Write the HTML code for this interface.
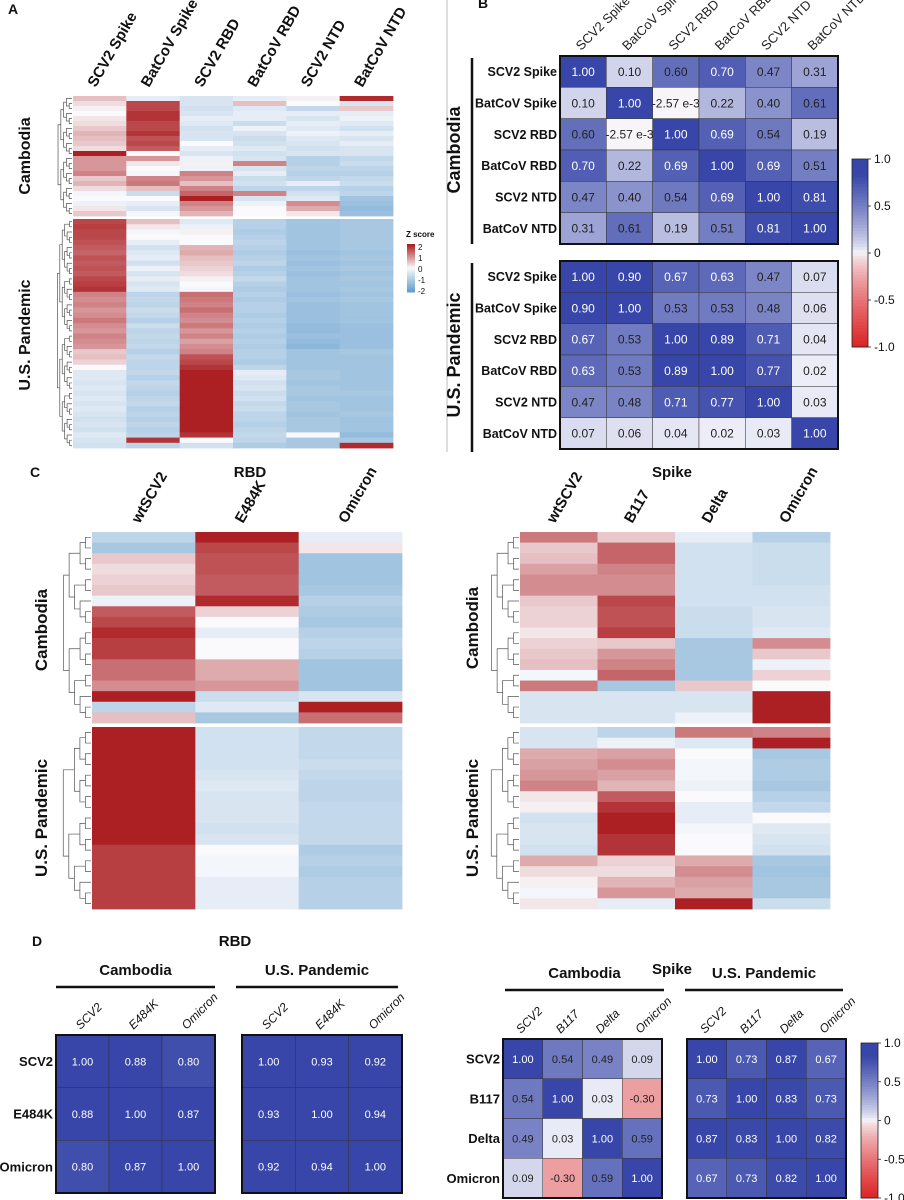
<!DOCTYPE html>
<html><head><meta charset="utf-8">
<style>
html,body{margin:0;padding:0;background:#fff;}
svg{display:block;font-family:"Liberation Sans",Arial,sans-serif;}
</style></head>
<body>
<svg id="fig" width="904" height="1200" viewBox="0 0 904 1200" xmlns="http://www.w3.org/2000/svg">
<rect width="904" height="1200" fill="#fff"/>
<g id="root"></g>
</svg>
<script>
// ---------- Panel A data (Z scores) ----------
const aCols = ["SCV2 Spike","BatCoV Spike","SCV2 RBD","BatCoV RBD","SCV2 NTD","BatCoV NTD"];
const aCambodia = [
[0.6,-0.3,-0.5,-0.3,0.1,2.1],[0.3,1.8,-0.5,0.6,0.0,-0.5],[0.1,1.8,-0.6,-0.4,-0.8,0.5],
[0.0,2.0,-0.5,-0.3,-0.3,-0.3],[0.2,2.0,-0.3,-0.3,-0.5,-0.2],[0.3,1.8,-0.4,-0.7,-0.3,-0.4],
[0.5,1.8,-0.6,-0.2,-0.4,-0.6],[0.7,2.0,-0.5,-0.5,-0.2,-0.3],[0.6,1.7,-0.5,-0.7,-0.4,-0.5],
[0.5,1.8,0.0,-0.6,-0.5,-0.3],[0.3,1.6,-0.3,-0.4,-0.6,-0.5],[2.2,0.0,-0.5,-0.6,-0.5,-0.5],
[1.0,1.0,-0.2,-0.5,-1.0,-0.8],[1.0,0.2,0.1,1.2,-1.0,-0.7],[1.0,0.0,-0.2,-0.5,-0.9,-0.9],
[1.2,-0.1,1.2,-0.3,-1.0,-1.0],[0.5,1.2,1.0,-0.7,-0.9,-0.8],[0.7,1.3,0.6,-0.6,-0.3,-0.7],
[0.3,0.6,1.2,-0.9,-0.9,-1.0],[-0.1,-0.7,1.5,1.2,-0.6,-0.9],[0.0,0.0,2.3,-0.5,-0.4,-1.3],
[-0.2,-0.3,1.2,-0.2,1.1,-1.4],[0.2,-0.5,1.0,0.0,0.8,-1.5],[0.5,-0.1,0.7,0.0,0.2,-1.4]];
const aUS = [
[1.8,0.6,-0.4,-1.0,-1.3,-1.2],[1.9,0.2,-0.2,-1.0,-1.3,-1.2],[1.8,-0.1,0.1,-1.1,-1.3,-1.2],
[1.8,0.0,0.0,-1.0,-1.3,-1.2],[1.7,-0.3,0.0,-0.9,-1.3,-1.2],[1.6,-0.6,0.7,-1.0,-1.3,-1.2],
[1.5,-0.4,0.8,-1.1,-1.4,-1.3],[1.7,-0.3,0.6,-1.0,-1.3,-1.2],[1.6,-0.6,0.5,-0.9,-1.4,-1.3],
[1.7,-0.2,0.4,-1.1,-1.3,-1.2],[1.6,-0.5,0.3,-1.0,-1.4,-1.3],[1.8,-0.3,0.1,-0.8,-1.3,-1.2],
[1.9,-0.5,0.0,-1.0,-1.3,-1.3],[2.0,-0.4,-0.1,-1.1,-1.3,-1.2],[1.2,-0.9,1.4,-1.0,-1.4,-1.3],
[1.1,-0.8,1.3,-1.1,-1.3,-1.2],[1.2,-0.9,1.2,-1.0,-1.4,-1.3],[1.0,-0.7,1.4,-1.0,-1.4,-1.3],
[1.1,-0.8,1.2,-1.1,-1.4,-1.3],[1.3,-1.0,1.1,-1.0,-1.4,-1.3],[1.1,-0.7,1.3,-1.1,-1.5,-1.4],
[1.0,-0.9,1.0,-1.0,-1.5,-1.4],[1.2,-0.8,1.2,-1.1,-1.4,-1.4],[1.1,-0.9,0.9,-1.0,-1.5,-1.4],
[1.0,-0.8,1.1,-1.1,-1.6,-1.4],[0.5,-1.0,1.2,-1.0,-1.3,-1.2],[0.6,-0.8,1.7,-1.0,-1.3,-1.3],
[0.4,-0.9,1.8,-1.1,-1.3,-1.3],[0.0,-0.9,2.0,-0.9,-1.3,-1.3],[-0.4,-0.8,2.2,-0.3,-1.2,-1.3],
[-0.4,-1.0,2.3,-0.4,-1.2,-1.3],[-0.5,-0.8,2.2,-0.6,-1.3,-1.3],[-0.4,-0.9,2.3,-0.5,-1.2,-1.3],
[-0.5,-1.0,2.2,-0.7,-1.2,-1.2],[-0.4,-0.9,2.3,-0.6,-1.3,-1.3],[-0.5,-0.8,2.2,-0.8,-1.2,-1.3],
[-0.4,-1.0,2.3,-0.7,-1.2,-1.3],[-0.5,-0.9,2.2,-0.9,-1.3,-1.2],[-0.6,-1.0,2.3,-0.9,-1.2,-1.3],
[-0.5,-0.9,2.2,-1.0,-1.2,-1.3],[-0.6,-1.0,2.2,-0.9,-1.2,-1.3],[-0.4,-0.9,2.0,-0.8,0.0,-1.5],
[-0.5,2.0,0.0,-0.9,-1.2,-1.2],[-0.6,-0.9,-0.6,-1.1,-1.2,2.1]];
const zTicks = ["2","1","0","-1","-2"];

// ---------- Panel B data (correlations) ----------
const bLabels = ["SCV2 Spike","BatCoV Spike","SCV2 RBD","BatCoV RBD","SCV2 NTD","BatCoV NTD"];
const bCambodia = [
[1.00,0.10,0.60,0.70,0.47,0.31],[0.10,1.00,-0.00257,0.22,0.40,0.61],[0.60,-0.00257,1.00,0.69,0.54,0.19],
[0.70,0.22,0.69,1.00,0.69,0.51],[0.47,0.40,0.54,0.69,1.00,0.81],[0.31,0.61,0.19,0.51,0.81,1.00]];
const bUS = [
[1.00,0.90,0.67,0.63,0.47,0.07],[0.90,1.00,0.53,0.53,0.48,0.06],[0.67,0.53,1.00,0.89,0.71,0.04],
[0.63,0.53,0.89,1.00,0.77,0.02],[0.47,0.48,0.71,0.77,1.00,0.03],[0.07,0.06,0.04,0.02,0.03,1.00]];
const corrTicks = ["1.0","0.5","0","-0.5","-1.0"];

// ---------- Panel C data (Z scores) ----------
const cRbdCols = ["wtSCV2","E484K","Omicron"];
const cRbdCambodia = [
[-0.9,2.2,-0.3],[-1.2,1.8,0.2],[0.5,1.7,-1.3],[0.3,1.7,-1.3],[0.4,1.6,-1.3],[0.5,1.6,-1.2],
[-0.2,2.1,-1.0],[1.6,0.4,-1.1],[1.8,0.0,-1.2],[2.1,-0.3,-1.0],[1.9,0.0,-0.9],[1.9,0.0,-1.0],
[1.4,0.8,-1.3],[1.4,0.8,-1.3],[1.1,1.0,-1.3],[2.2,-0.7,-0.5],[-0.9,-0.4,2.2],[0.6,-1.2,1.4]];
const cRbdUS = [
[2.2,-0.6,-0.8],[2.2,-0.6,-0.8],[2.2,-0.6,-0.8],[2.2,-0.6,-0.7],[2.2,-0.5,-0.8],[2.2,-0.4,-0.9],
[2.2,-0.5,-0.9],[2.2,-0.5,-0.8],[2.2,-0.5,-0.8],[2.2,-0.6,-0.8],[2.2,-0.5,-0.8],[1.9,0.0,-1.1],
[1.9,-0.1,-1.0],[1.9,-0.1,-1.1],[1.9,-0.3,-1.0],[1.9,-0.3,-1.0],[1.9,-0.3,-1.0]];
const cSpikeCols = ["wtSCV2","B117","Delta","Omicron"];
const cSpikeCambodia = [
[1.3,0.5,-0.3,-1.0],[0.5,1.5,-0.6,-0.7],[0.6,1.5,-0.6,-0.7],[0.9,1.2,-0.6,-0.7],[1.1,1.1,-0.6,-0.7],
[1.1,1.1,-0.6,-0.6],[0.5,1.8,-0.6,-0.6],[0.4,1.7,-0.7,-0.5],[0.4,1.7,-0.7,-0.5],[0.2,1.9,-0.7,-0.4],
[0.4,0.5,-1.2,1.1],[0.5,1.0,-1.2,0.5],[0.6,1.2,-1.2,-0.2],[-0.1,1.5,-1.2,0.4],[1.3,-1.2,0.5,0.0],
[-0.5,-0.5,-0.5,2.3],[-0.5,-0.5,-0.5,2.3],[-0.5,-0.5,-0.2,2.3]];
const cSpikeUS = [
[-0.5,-0.9,1.3,1.2],[-0.5,-0.2,-0.4,2.3],[0.8,0.9,0.0,-1.2],[0.9,1.1,-0.1,-1.1],[1.0,0.9,-0.1,-1.1],
[1.2,0.7,-0.2,-1.2],[0.2,1.6,0.0,-1.0],[0.1,2.0,-0.3,-0.8],[-0.6,2.2,-0.3,0.0],[-0.5,2.2,-0.1,-0.4],
[-0.5,2.0,0.0,-0.5],[-0.6,2.0,0.0,-0.6],[0.8,0.4,0.8,-1.2],[0.3,0.3,1.1,-1.3],[0.1,0.7,0.9,-1.2],
[-0.1,1.0,0.8,-1.2],[0.2,-0.3,2.3,-0.7]];

// ---------- Panel D data (correlations) ----------
const dRbdLabels = ["SCV2","E484K","Omicron"];
const dRbdCambodia = [[1.00,0.88,0.80],[0.88,1.00,0.87],[0.80,0.87,1.00]];
const dRbdUS = [[1.00,0.93,0.92],[0.93,1.00,0.94],[0.92,0.94,1.00]];
const dSpikeLabels = ["SCV2","B117","Delta","Omicron"];
const dSpikeCambodia = [[1.00,0.54,0.49,0.09],[0.54,1.00,0.03,-0.30],[0.49,0.03,1.00,0.59],[0.09,-0.30,0.59,1.00]];
const dSpikeUS = [[1.00,0.73,0.87,0.67],[0.73,1.00,0.83,0.73],[0.87,0.83,1.00,0.82],[0.67,0.73,0.82,1.00]];

// ---------- helpers ----------
const NS = "http://www.w3.org/2000/svg";
const root = document.getElementById("root");
function mk(tag, attrs, parent, text){
  const e = document.createElementNS(NS, tag);
  for (const k in attrs) e.setAttribute(k, attrs[k]);
  if (text !== undefined) e.textContent = text;
  (parent || root).appendChild(e);
  return e;
}
function lerp(a,b,t){return Math.round(a+(b-a)*t);}
function zColor(z){
  let t = Math.max(-1, Math.min(1, z/2.2));
  const w=[250,250,252], r=[172,32,36], b=[100,158,205];
  const e = t>=0 ? r : b; t = Math.abs(t);
  return `rgb(${lerp(w[0],e[0],t)},${lerp(w[1],e[1],t)},${lerp(w[2],e[2],t)})`;
}
function cColor(v){
  const w=[248,248,252];
  if (v>=0){ const t=Math.pow(Math.min(1,v/0.85),0.75); const e=[55,70,168];
    return `rgb(${lerp(w[0],e[0],t)},${lerp(w[1],e[1],t)},${lerp(w[2],e[2],t)})`; }
  const t=Math.pow(Math.min(1,-v),0.7); const e=[220,38,40];
  return `rgb(${lerp(w[0],e[0],t)},${lerp(w[1],e[1],t)},${lerp(w[2],e[2],t)})`;
}
function fmt(v){ if (Math.abs(v)>0 && Math.abs(v)<0.01) return "-2.57 e-3"; return v.toFixed(2); }

function heatBlock(g, data, x0, y0, w, h, name){
  const nR = data.length, nC = data[0].length;
  const xs = c => x0 + c*w/nC;
  const ys = r => y0 + r*h/nR;
  data.forEach((row,r)=>row.forEach((v,c)=>{
    const el = mk("rect",{x:xs(c).toFixed(2),y:ys(r).toFixed(2),width:(w/nC+0.4).toFixed(2),height:(h/nR+0.4).toFixed(2),fill:zColor(v)},g);
    
    
  }));
}
function dendro(g, n, xRight, xLeft, y0, h){
  const rh = h/n;
  function build(a,b,depth){
    if (b-a===1) return {y:y0+(a+0.5)*rh, x:xRight};
    const m = Math.floor((a+b)/2);
    const L = build(a,m,depth+1), R = build(m,b,depth+1);
    const x = Math.min(L.x,R.x) - (xRight-xLeft)/(Math.log2(n)+1.5);
    mk("path",{d:`M${L.x},${L.y}H${x}V${R.y}H${R.x}`,fill:"none",stroke:"#555","stroke-width":0.7},g);
    return {y:(L.y+R.y)/2, x:x};
  }
  build(0,n,0);
}
function txt(x,y,s,attrs,name){
  const a = Object.assign({x:x,y:y,"font-size":14,fill:"#111"}, attrs||{});
  const e = mk("text",a,root,s);
  
  
  return e;
}
function heatmap(name, cols, camb, us, x0, yTop, w, hC, gap, hU, dendL, labelRot){
  const g = mk("g",{});  
  heatBlock(g, camb, x0, yTop, w, hC, name+'-cambodia');
  heatBlock(g, us, x0, yTop+hC+gap, w, hU, name+'-us');
  dendro(g, camb.length, x0-1, dendL, yTop, hC);
  dendro(g, us.length, x0-1, dendL, yTop+hC+gap, hU);
  const cw = w/cols.length;
  cols.forEach((c,i)=>{
    const cx = x0+cw*(i+0.5)-4, cy = yTop-8;
    txt(cx,cy,c,{"font-weight":"bold","font-size":15,transform:`rotate(${labelRot} ${cx} ${cy})`},name+'-column-label');
  });
}
function matrix(name, data, labels, x0, y0, w, h, fs, labelFs, showRow, colLabelAttrs, rowLabelAttrs){
  const g = mk("g",{});  
  const n = data.length, cw = w/n, rh = h/n;
  const xs = c => x0 + c*cw, ys = r => y0 + r*rh;
  data.forEach((row,r)=>row.forEach((v,c)=>{
    const el = mk("rect",{x:xs(c),y:ys(r),width:cw,height:rh,fill:cColor(v),stroke:"#333","stroke-width":0.5},g);
    
    
    const t = mk("text",{x:xs(c)+cw/2,y:ys(r)+rh/2+fs*0.36,"text-anchor":"middle","font-size":fs,fill:(v>=0.62?"#fff":"#222")},g,fmt(v));
    
    
  }));
  mk("rect",{x:x0,y:y0,width:w,height:h,fill:"none",stroke:"#111","stroke-width":2},g);
  if (showRow) labels.forEach((l,i)=>{
    txt(x0-3, ys(i)+rh/2+labelFs*0.36, l, Object.assign({"text-anchor":"end","font-weight":"bold","font-size":labelFs}, rowLabelAttrs||{}), name+'-row-label');
  });
  labels.forEach((l,i)=>{
    const cx = xs(i)+cw/2-2, cy = y0-5;
    txt(cx, cy, l, Object.assign({"font-size":labelFs, transform:`rotate(-45 ${cx} ${cy})`}, colLabelAttrs||{}), name+'-column-label');
  });
}
function colorbar(name, x, y, w, h, ticks){
  const g = mk("g",{});  
  const steps = 60;
  for (let i=0;i<steps;i++){
    const v = 1 - 2*i/(steps-1);
    mk("rect",{x:x,y:y+i*h/steps,width:w,height:h/steps+0.5,fill:cColor(v)},g);
  }
  mk("rect",{x:x,y:y,width:w,height:h,fill:"none",stroke:"#222","stroke-width":0.8},g);
  ticks.forEach((t,i)=>{
    const ty = y + i*h/(ticks.length-1);
    mk("line",{x1:x+w,x2:x+w+3,y1:ty,y2:ty,stroke:"#222","stroke-width":0.8},g);
    txt(x+w+6, ty+4, t, {"font-size":12}, name+'-tick');
  });
}

// ---------- Panel letters / titles ----------
txt(8,14,"A",{"font-weight":"bold","font-size":14},"panel-a-letter");
txt(478,8,"B",{"font-weight":"bold","font-size":14},"panel-b-letter");
txt(30,477,"C",{"font-weight":"bold","font-size":14},"panel-c-letter");
txt(32,946,"D",{"font-weight":"bold","font-size":14},"panel-d-letter");
mk("line",{x1:447,x2:447,y1:0,y2:452,stroke:"#bbb","stroke-width":1});

// ---------- Panel A ----------
heatmap("heatmap-a", aCols, aCambodia, aUS, 73, 96, 320, 120, 3, 229, 55, -60);
txt(30,156,"Cambodia",{"font-weight":"bold","font-size":16,"text-anchor":"middle",transform:"rotate(-90 30 156)"},"a-cambodia-label");
txt(30,335,"U.S. Pandemic",{"font-weight":"bold","font-size":16,"text-anchor":"middle",transform:"rotate(-90 30 335)"},"a-us-label");
txt(406,237,"Z score",{"font-weight":"bold","font-size":8},"z-legend-title");
(function(){
  const g = mk("g",{});  
  const y0=244, h=48, n=30;
  for (let i=0;i<n;i++){ mk("rect",{x:407,y:y0+i*h/n,width:8,height:h/n+0.5,fill:zColor(2.2-4.4*i/(n-1))},g); }
  zTicks.forEach((t,i)=>{ txt(418, y0+3+i*(h-4)/(zTicks.length-1)+3, t, {"font-size":8}, 'z-legend-tick'); });
})();

// ---------- Panel B ----------
matrix("corr-b-cambodia", bCambodia, bLabels, 560, 56, 278, 188, 12, 12.5, true, {"font-size":13,fill:"#222"}, {});
matrix("corr-b-us", bUS, bLabels, 560, 261, 278, 188, 12, 12.5, true, {"font-size":0}, {});
mk("line",{x1:472,x2:472,y1:58,y2:244,stroke:"#111","stroke-width":2.5});
mk("line",{x1:472,x2:472,y1:263,y2:452,stroke:"#111","stroke-width":2.5});
txt(460,150,"Cambodia",{"font-weight":"bold","font-size":18,"text-anchor":"middle",transform:"rotate(-90 460 150)"},"b-cambodia-label");
txt(460,355,"U.S. Pandemic",{"font-weight":"bold","font-size":18,"text-anchor":"middle",transform:"rotate(-90 460 355)"},"b-us-label");
colorbar("colorbar-b", 852, 159, 16, 188, corrTicks);

// ---------- Panel C ----------
txt(250,477,"RBD",{"font-weight":"bold","font-size":15,"text-anchor":"middle"},"c-rbd-title");
txt(672,477,"Spike",{"font-weight":"bold","font-size":15,"text-anchor":"middle"},"c-spike-title");
heatmap("heatmap-c-rbd", cRbdCols, cRbdCambodia, cRbdUS, 92, 532, 310, 191, 4, 182, 60, -60);
heatmap("heatmap-c-spike", cSpikeCols, cSpikeCambodia, cSpikeUS, 520, 532, 310, 191, 4, 182, 488, -60);
txt(47,630,"Cambodia",{"font-weight":"bold","font-size":17,"text-anchor":"middle",transform:"rotate(-90 47 630)"},"c-rbd-cambodia-label");
txt(47,818,"U.S. Pandemic",{"font-weight":"bold","font-size":17,"text-anchor":"middle",transform:"rotate(-90 47 818)"},"c-rbd-us-label");
txt(478,628,"Cambodia",{"font-weight":"bold","font-size":17,"text-anchor":"middle",transform:"rotate(-90 478 628)"},"c-spike-cambodia-label");
txt(478,818,"U.S. Pandemic",{"font-weight":"bold","font-size":17,"text-anchor":"middle",transform:"rotate(-90 478 818)"},"c-spike-us-label");

// ---------- Panel D ----------
txt(235,946,"RBD",{"font-weight":"bold","font-size":15,"text-anchor":"middle"},"d-rbd-title");
txt(672,974,"Spike",{"font-weight":"bold","font-size":15,"text-anchor":"middle"},"d-spike-title");
function header(x1,x2,y,label,name){
  txt((x1+x2)/2, y, label, {"font-weight":"bold","font-size":15,"text-anchor":"middle"}, name);
  mk("line",{x1:x1,x2:x2,y1:y+12,y2:y+12,stroke:"#111","stroke-width":2.5});
}
header(56,215,975,"Cambodia","d-rbd-cambodia-header");
header(236,398,975,"U.S. Pandemic","d-rbd-us-header");
header(505,664,978,"Cambodia","d-spike-cambodia-header");
header(685,843,978,"U.S. Pandemic","d-spike-us-header");
const italicCol = {"font-size":12,"font-style":"italic"};
matrix("corr-d-rbd-cambodia", dRbdCambodia, dRbdLabels, 56, 1035, 159, 158, 11, 13, true, italicCol, {"font-size":13});
matrix("corr-d-rbd-us", dRbdUS, dRbdLabels, 242, 1035, 160, 158, 11, 13, false, italicCol, {});
matrix("corr-d-spike-cambodia", dSpikeCambodia, dSpikeLabels, 503, 1039, 159, 159, 11, 13, true, italicCol, {"font-size":13});
matrix("corr-d-spike-us", dSpikeUS, dSpikeLabels, 687, 1039, 159, 159, 11, 13, false, italicCol, {});
colorbar("colorbar-d", 861, 1043, 17, 155, corrTicks);
</script>
</body></html>
